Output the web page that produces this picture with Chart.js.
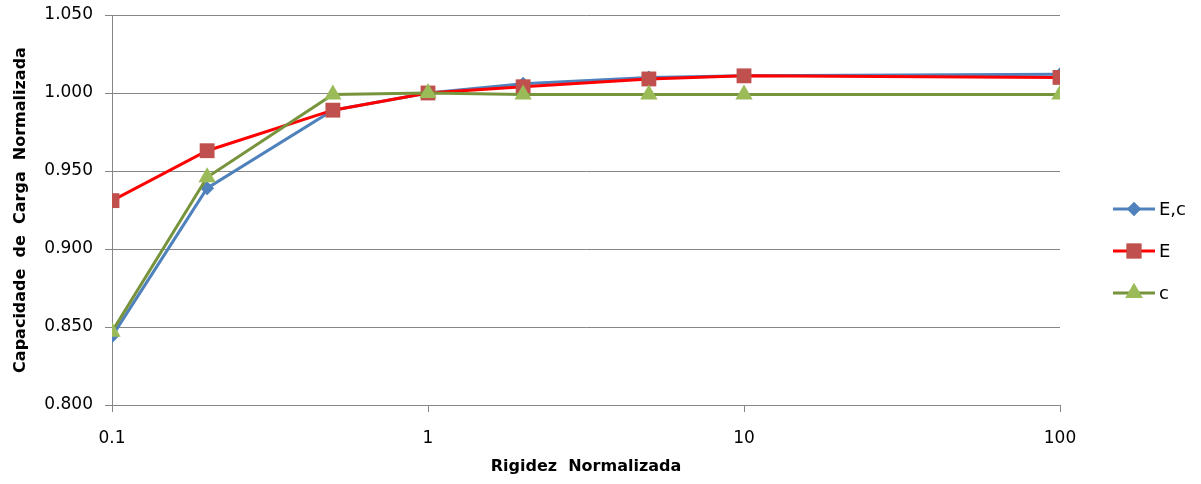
<!DOCTYPE html>
<html lang="pt">
<head>
  <meta charset="UTF-8">
  <title>Capacidade de Carga Normalizada</title>
  <script src="https://cdn.jsdelivr.net/npm/chart.js"></script>
  <style>
    body { margin: 0; background: #ffffff; }
    .chart-container { width: 1201px; height: 484px; }
  </style>
</head>
<body>

<div class="chart-container">
  <canvas id="cargaChart"></canvas>
</div>

<script>
  // Data
  const rigidez = [0.1, 0.2, 0.5, 1, 2, 5, 10, 100];
  const serieEc = [0.844, 0.939, 0.989, 1.000, 1.006, 1.010, 1.011, 1.012];
  const serieE  = [0.931, 0.963, 0.989, 1.000, 1.004, 1.009, 1.011, 1.010];
  const serieC  = [0.847, 0.946, 0.999, 1.000, 0.999, 0.999, 0.999, 0.999];
  const xTicks = [0.1, 1, 10, 100];
  const yTicks = [0.800, 0.850, 0.900, 0.950, 1.000, 1.050];

  const font = "'DejaVu Sans', sans-serif";

  function pts(values) {
    return rigidez.map((x, i) => ({ x: x, y: values[i] }));
  }

  // legend on the right: line with marker in the middle, like the original
  const sideLegend = {
    id: 'sideLegend',
    afterDraw(chart) {
      const ctx = chart.ctx;
      const x0 = 1113, x1 = 1155;
      const rows = [209, 251, 293];
      chart.data.datasets.forEach((ds, i) => {
        const y = rows[i];
        ctx.save();
        ctx.strokeStyle = ds.borderColor;
        ctx.lineWidth = 3;
        ctx.beginPath();
        ctx.moveTo(x0, y);
        ctx.lineTo(x1, y);
        ctx.stroke();
        ctx.fillStyle = ds.pointBackgroundColor;
        Chart.helpers.drawPoint(ctx, {
          pointStyle: ds.pointStyle,
          rotation: 0,
          borderWidth: 0,
          radius: ds.pointRadius
        }, (x0 + x1) / 2, y);
        ctx.fill();
        ctx.fillStyle = '#000000';
        ctx.font = '18px ' + font;
        ctx.textBaseline = 'middle';
        ctx.fillText(ds.label, x1 + 4, y + 1);
        ctx.restore();
      });
    }
  };

  const ctx = document.getElementById('cargaChart').getContext('2d');
  new Chart(ctx, {
    type: 'line',
    data: {
      datasets: [
        {
          label: 'E,c',
          data: pts(serieEc),
          borderColor: '#4F81BD',
          backgroundColor: '#4F81BD',
          pointBackgroundColor: '#4F81BD',
          pointBorderWidth: 0,
          pointStyle: 'rectRot',
          pointRadius: 7,
          borderWidth: 3,
          order: 3
        },
        {
          label: 'E',
          data: pts(serieE),
          borderColor: '#FF0000',
          backgroundColor: '#C0504D',
          pointBackgroundColor: '#C0504D',
          pointBorderWidth: 0,
          pointStyle: 'rect',
          pointRadius: 10.5,
          borderWidth: 3,
          order: 2
        },
        {
          label: 'c',
          data: pts(serieC),
          borderColor: '#77933C',
          backgroundColor: '#9BBB59',
          pointBackgroundColor: '#9BBB59',
          pointBorderWidth: 0,
          pointStyle: 'triangle',
          pointRadius: 10,
          borderWidth: 3,
          order: 1
        }
      ]
    },
    options: {
      responsive: true,
      maintainAspectRatio: false,
      animation: false,
      layout: { padding: { top: 15, right: 141, left: 0, bottom: 0 } },
      plugins: {
        legend: { display: false },
        tooltip: { enabled: false }
      },
      scales: {
        x: {
          type: 'logarithmic',
          min: 0.1,
          max: 100,
          afterBuildTicks: axis => { axis.ticks = xTicks.map(v => ({ value: v })); },
          afterFit: axis => { axis.height = 79; axis.paddingLeft = 0; axis.paddingRight = 0; },
          ticks: {
            color: '#000000',
            font: { family: font, size: 17 },
            padding: 16,
            maxRotation: 0,
            callback: v => String(v)
          },
          grid: { drawOnChartArea: false, color: '#868686', tickLength: 7 },
          border: { color: '#868686', width: 1 },
          title: {
            display: true,
            text: 'Rigidez  Normalizada',
            color: '#000000',
            font: { family: font, size: 16, weight: 'bold' },
            padding: { top: 4, bottom: 8 }
          }
        },
        y: {
          min: 0.8,
          max: 1.05,
          afterBuildTicks: axis => { axis.ticks = yTicks.map(v => ({ value: v })); },
          afterFit: axis => { axis.width = 112; axis.paddingTop = 0; axis.paddingBottom = 0; },
          ticks: {
            color: '#000000',
            font: { family: font, size: 17 },
            padding: 12,
            callback: v => v.toFixed(3)
          },
          grid: { color: '#868686', tickLength: 7 },
          border: { color: '#868686', width: 1 },
          title: {
            display: true,
            text: 'Capacidade  de  Carga  Normalizada',
            color: '#000000',
            font: { family: font, size: 16, weight: 'bold' },
            padding: { top: 11, bottom: 4 }
          }
        }
      }
    },
    plugins: [sideLegend]
  });
</script>

</body>
</html>
